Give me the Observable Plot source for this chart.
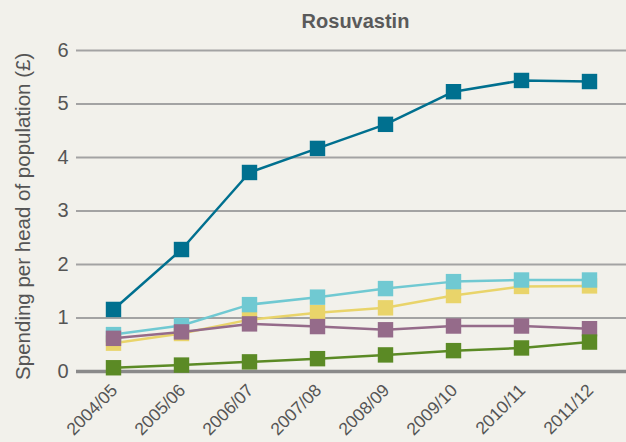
<!DOCTYPE html>
<html>
<head>
<meta charset="utf-8">
<script src="https://cdn.jsdelivr.net/npm/d3@7"></script>
<script src="https://cdn.jsdelivr.net/npm/@observablehq/plot@0.6"></script>
<style>
  html, body { margin: 0; padding: 0; background: #f2f1eb; }
  #wrap { width: 626px; height: 442px; position: relative; font-family: "Liberation Sans", Arial, sans-serif; }
  #title { height: 40px; box-sizing: border-box; padding-top: 9px; padding-left: 85px; text-align: center;
           font-size: 20px; line-height: 24px; font-weight: bold; color: #5a5a5a; }
</style>
</head>
<body>
<div id="wrap">
  <div id="title">Rosuvastin</div>
  <div id="chart"></div>
</div>
<script>
const categories = ["2004/05", "2005/06", "2006/07", "2007/08", "2008/09", "2009/10", "2010/11", "2011/12"];
const yTicks = [0, 1, 2, 3, 4, 5, 6];
const yLabel = "Spending per head of population (£)";

const yellowValues    = [0.53, 0.71, 0.97, 1.10, 1.19, 1.42, 1.59, 1.60];
const lightBlueValues = [0.69, 0.86, 1.25, 1.39, 1.55, 1.68, 1.71, 1.71];
const purpleValues    = [0.62, 0.74, 0.89, 0.84, 0.78, 0.85, 0.85, 0.80];
const greenValues     = [0.07, 0.12, 0.18, 0.24, 0.31, 0.39, 0.44, 0.55];
const darkBlueValues  = [1.16, 2.28, 3.72, 4.17, 4.62, 5.23, 5.44, 5.42];

const seriesList = [
  {values: yellowValues, color: "#e9d46a"},
  {values: lightBlueValues, color: "#70c9d2"},
  {values: purpleValues, color: "#956b8a"},
  {values: greenValues, color: "#5b8a25"},
  {values: darkBlueValues, color: "#00708f"}
];

const seriesMarks = [];
for (const s of seriesList) {
  const data = categories.map((c, i) => ({cat: c, v: s.values[i]}));
  seriesMarks.push(Plot.line(data, {x: "cat", y: "v", stroke: s.color, strokeWidth: 2.5}));
  seriesMarks.push(Plot.dot(data, {x: "cat", y: "v", symbol: "square", r: 8.7, fill: s.color}));
}

const chart = Plot.plot({
  width: 626,
  height: 402,
  marginLeft: 76,
  marginRight: 0,
  marginTop: 10,
  marginBottom: 71,
  style: {background: "transparent", color: "#555", fontFamily: "'Liberation Sans', Arial, sans-serif"},
  x: {type: "point", domain: categories, padding: 0.49, axis: null},
  y: {domain: [0, 6], axis: null},
  marks: [
    Plot.ruleY(yTicks.filter(d => d > 0), {stroke: "#a3a3a3", strokeWidth: 2}),
    Plot.ruleY([0], {stroke: "#8a8a8a", strokeWidth: 3.5}),
    Plot.axisY(yTicks, {tickSize: 0, tickPadding: 8, fontSize: 20, label: null, fill: "#555", tickFormat: d3.format("d")}),
    Plot.text(categories, {x: d => d, frameAnchor: "bottom", rotate: -45, textAnchor: "end", lineAnchor: "middle",
                           dx: 1, dy: 16, fontSize: 17.5, fill: "#555"}),
    Plot.text([yLabel], {text: d => d, y: () => 2.9, frameAnchor: "left", rotate: -90, textAnchor: "middle",
                         lineAnchor: "middle", dx: -53, fontSize: 20.5, fill: "#555"}),
    ...seriesMarks
  ]
});
document.getElementById("chart").appendChild(chart);
</script>
</body>
</html>
